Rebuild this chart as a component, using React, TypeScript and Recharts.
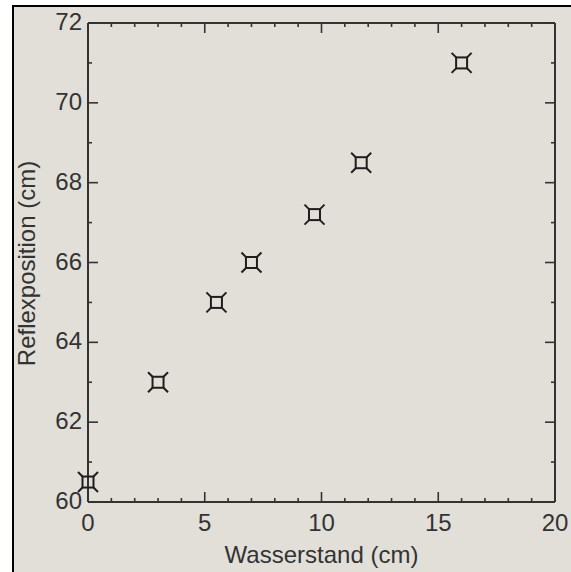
import { ScatterChart, Scatter, XAxis, YAxis } from "recharts";

// values
const WASSERSTAND = [0, 3, 5.5, 7, 9.7, 11.7, 16];
const REFLEXPOSITION = [60.5, 63, 65, 66, 67.2, 68.5, 71];

const X_TICKS = [0, 1, 2, 3, 4, 5, 6, 7, 8, 9, 10, 11, 12, 13, 14, 15, 16, 17, 18, 19, 20];
const X_LABELS = [0, 5, 10, 15, 20];
const Y_TICKS = [60, 61, 62, 63, 64, 65, 66, 67, 68, 69, 70, 71, 72];
const Y_LABELS = [60, 62, 64, 66, 68, 70, 72];

const points = WASSERSTAND.map((x, i) => ({ x, y: REFLEXPOSITION[i] }));

const INK = "#333";
const FONT = '"Liberation Sans", Arial, sans-serif';
const BG = "#e2dfd8";

function BottomTick({ x, y, payload }: any) {
  const major = X_LABELS.includes(payload.value);
  return (
    <g>
      <line x1={x} y1={y} x2={x} y2={y - (major ? 10 : 4)} stroke={INK} strokeWidth={1.6} />
      {major && (
        <text x={x} y={y + 29} textAnchor="middle" fill={INK} fontSize={24} fontFamily={FONT}>
          {payload.value}
        </text>
      )}
    </g>
  );
}

function TopTick({ x, y, payload }: any) {
  const major = X_LABELS.includes(payload.value);
  return <line x1={x} y1={y} x2={x} y2={y + (major ? 10 : 4)} stroke={INK} strokeWidth={1.6} />;
}

function LeftTick({ x, y, payload }: any) {
  const major = Y_LABELS.includes(payload.value);
  return (
    <g>
      <line x1={x} y1={y} x2={x + (major ? 10 : 4)} y2={y} stroke={INK} strokeWidth={1.6} />
      {major && (
        <text x={x - 6} y={y + 7} textAnchor="end" fill={INK} fontSize={24} fontFamily={FONT}>
          {payload.value}
        </text>
      )}
    </g>
  );
}

function RightTick({ x, y, payload }: any) {
  const major = Y_LABELS.includes(payload.value);
  return <line x1={x} y1={y} x2={x - (major ? 10 : 4)} y2={y} stroke={INK} strokeWidth={1.6} />;
}

function Marker({ cx, cy }: any) {
  const s = 5.5;
  const a = 10;
  return (
    <g stroke="#1e1e1e" strokeWidth={2} fill="none">
      <rect x={cx - s} y={cy - s} width={2 * s} height={2 * s} />
      <line x1={cx - s} y1={cy - s} x2={cx - a} y2={cy - a} />
      <line x1={cx + s} y1={cy - s} x2={cx + a} y2={cy - a} />
      <line x1={cx - s} y1={cy + s} x2={cx - a} y2={cy + a} />
      <line x1={cx + s} y1={cy + s} x2={cx + a} y2={cy + a} />
    </g>
  );
}

function YLabel({ viewBox }: any) {
  const cy = viewBox.y + viewBox.height / 2 + 1;
  return (
    <text
      x={35}
      y={cy}
      transform={`rotate(-90 35 ${cy})`}
      textAnchor="middle"
      fill={INK}
      fontSize={24}
      fontFamily={FONT}
    >
      Reflexposition (cm)
    </text>
  );
}

export default function App() {
  return (
    <div style={{ position: "absolute", left: 0, top: 0, width: 571, height: 572, background: "#fff", overflow: "hidden" }}>
      <div
        style={{
          position: "absolute",
          left: 12,
          top: 5,
          width: 571,
          height: 572,
          background: BG,
          borderTop: "2.5px solid #000",
          borderLeft: "2.5px solid #000",
        }}
      />
      <div style={{ position: "absolute", left: 0, top: 0 }}>
        <ScatterChart width={571} height={572} margin={{ top: 22, right: 15, bottom: 0, left: 0 }}>
          <XAxis
            xAxisId="b"
            dataKey="x"
            type="number"
            domain={[0, 20]}
            ticks={X_TICKS}
            interval={0}
            height={70}
            tickSize={0}
            tickMargin={0}
            tick={BottomTick}
            axisLine={{ stroke: INK, strokeWidth: 2 }}
            label={{
              value: "Wasserstand (cm)",
              position: "insideBottom",
              offset: 9,
              fill: INK,
              fontSize: 24,
              fontFamily: FONT,
            }}
          />
          <XAxis
            xAxisId="t"
            dataKey="x"
            orientation="top"
            type="number"
            domain={[0, 20]}
            ticks={X_TICKS}
            interval={0}
            height={1}
            tickSize={0}
            tickMargin={0}
            tick={TopTick}
            axisLine={{ stroke: INK, strokeWidth: 2 }}
          />
          <YAxis
            yAxisId="l"
            dataKey="y"
            type="number"
            domain={[60, 72]}
            ticks={Y_TICKS}
            interval={0}
            width={88}
            tickSize={0}
            tickMargin={0}
            tick={LeftTick}
            axisLine={{ stroke: INK, strokeWidth: 2 }}
            label={{ content: YLabel }}
          />
          <YAxis
            yAxisId="r"
            dataKey="y"
            orientation="right"
            type="number"
            domain={[60, 72]}
            ticks={Y_TICKS}
            interval={0}
            width={1}
            tickSize={0}
            tickMargin={0}
            tick={RightTick}
            axisLine={{ stroke: INK, strokeWidth: 2 }}
          />
          <Scatter
            data={points}
            xAxisId="b"
            yAxisId="l"
            shape={Marker}
            isAnimationActive={false}
          />
          <Scatter
            data={points}
            xAxisId="t"
            yAxisId="r"
            shape={() => <g />}
            isAnimationActive={false}
          />
        </ScatterChart>
      </div>
    </div>
  );
}
